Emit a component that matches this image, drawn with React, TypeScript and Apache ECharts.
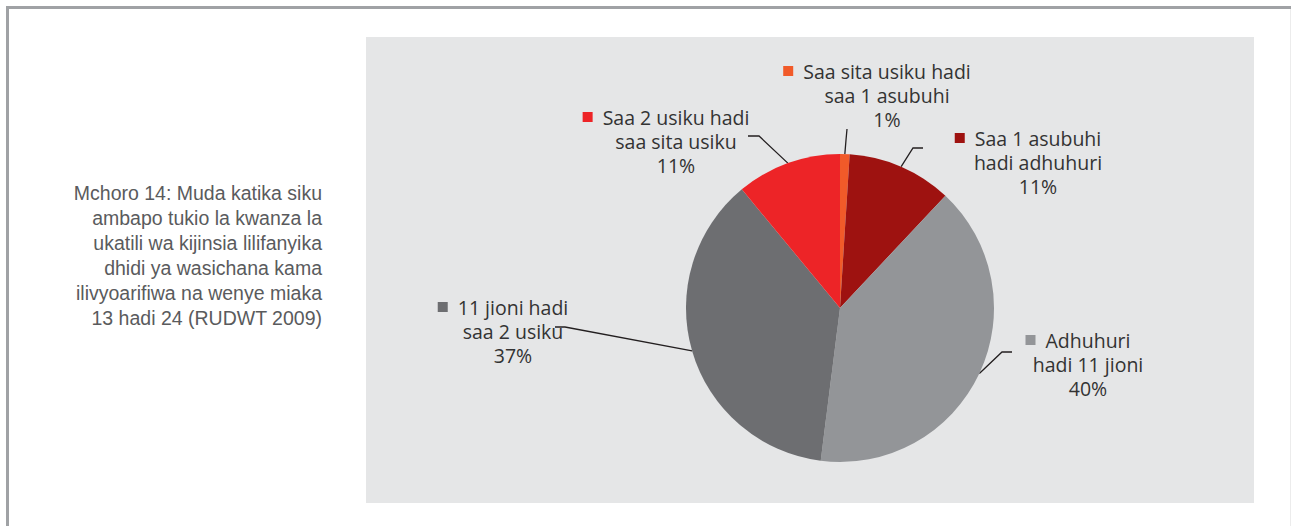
import React, { useEffect, useRef } from "react";
import * as echarts from "echarts";

const categories = [
  "Saa sita usiku hadi saa 1 asubuhi",
  "Saa 1 asubuhi hadi adhuhuri",
  "Adhuhuri hadi 11 jioni",
  "11 jioni hadi saa 2 usiku",
  "Saa 2 usiku hadi saa sita usiku",
];
const labelLines = [
  ["Saa sita usiku hadi", "saa 1 asubuhi"],
  ["Saa 1 asubuhi", "hadi adhuhuri"],
  ["Adhuhuri", "hadi 11 jioni"],
  ["11 jioni hadi", "saa 2 usiku"],
  ["Saa 2 usiku hadi", "saa sita usiku"],
];
const values = [1, 11, 40, 37, 11];
const colors = ["#f15a29", "#9e1210", "#939598", "#6d6e71", "#ed2427"];

const descriptionLines = [
  "Mchoro 14: Muda katika siku",
  "ambapo tukio la kwanza la",
  "ukatili wa kijinsia lilifanyika",
  "dhidi ya wasichana kama",
  "ilivyoarifiwa na wenye miaka",
  "13 hadi 24 (RUDWT 2009)",
];

// label placement (layout only)
const labelLayoutSpec = [
  { x: 887, y: 95, bend: [846, 140], end: [847, 129] },
  { x: 1038, y: 162, bend: [913, 148], end: [923, 148] },
  { x: 1088, y: 364, bend: [1002, 352], end: [1012, 352] },
  { x: 513, y: 331, bend: [565, 327], end: [555, 327] },
  { x: 676, y: 141, bend: [759, 136], end: [748, 136] },
];

const CX = 840;
const CY = 308;
const R = 154;

export default function App() {
  const ref = useRef<HTMLDivElement>(null);
  useEffect(() => {
    if (!ref.current) return;
    const chart = echarts.init(ref.current, null, { renderer: "svg" });
    const total = values.reduce((a, b) => a + b, 0);
    const rich: any = {
      sp: { width: 20, height: 10 },
    };
    colors.forEach((c, i) => {
      rich["s" + i] = { width: 10, height: 10, backgroundColor: c };
      rich["g" + i] = { width: 10, height: 10 };
    });
    const data = categories.map((name, i) => ({
      name,
      value: values[i],
      itemStyle: { color: colors[i] },
      label: {
        formatter: () =>
          `{s${i}|}{g${i}|}${labelLines[i][0]}{sp|}\n${labelLines[i][1]}\n${Math.round(
            (values[i] / total) * 100
          )}%`,
      },
    }));
    chart.setOption({
      animation: false,
      graphic: [
        {
          type: "line",
          z: 0,
          shape: { x1: 6, y1: 7.5, x2: 1291, y2: 7.5 },
          style: { stroke: "#a0a2a5", lineWidth: 3 },
        },
        {
          type: "line",
          z: 0,
          shape: { x1: 7.5, y1: 6, x2: 7.5, y2: 526 },
          style: { stroke: "#a0a2a5", lineWidth: 3 },
        },
        {
          type: "line",
          z: 0,
          shape: { x1: 1290.5, y1: 9, x2: 1290.5, y2: 526 },
          style: { stroke: "#ececec", lineWidth: 1 },
        },
        {
          type: "rect",
          z: -10,
          shape: { x: 366, y: 37, width: 888, height: 466 },
          style: { fill: "#e5e6e7" },
        },
        {
          type: "text",
          x: 322,
          y: 180.5,
          style: {
            text: descriptionLines.join("\n"),
            align: "right",
            verticalAlign: "top",
            fontFamily: "'Liberation Sans', Arial, sans-serif",
            fontSize: 19.5,
            lineHeight: 25,
            fill: "#5a5b5d",
          },
        },
      ],
      series: [
        {
          type: "pie",
          center: [CX, CY],
          radius: R,
          startAngle: 90,
          clockwise: true,
          avoidLabelOverlap: false,
          emphasis: { disabled: true },
          data,
          label: {
            show: true,
            position: "outside",
            color: "#333333",
            fontFamily: "'Open Sans', sans-serif",
            fontSize: 19.5,
            lineHeight: 24,
            align: "center",
            rich,
          },
          labelLine: {
            show: true,
            smooth: false,
            lineStyle: { color: "#231f20", width: 1.3 },
          },
          labelLayout: (params: any) => {
            const s = labelLayoutSpec[params.dataIndex];
            const p0 =
              params.labelLinePoints && params.labelLinePoints[0]
                ? params.labelLinePoints[0]
                : [CX, CY];
            return {
              x: s.x,
              y: s.y,
              align: "center",
              verticalAlign: "middle",
              labelLinePoints: [p0, s.bend, s.end],
            };
          },
        },
      ],
    });
    return () => chart.dispose();
  }, []);
  return (
    <div
      ref={ref}
      style={{ position: "fixed", left: 0, top: 0, width: 1291, height: 526, background: "#fff" }}
    />
  );
}
